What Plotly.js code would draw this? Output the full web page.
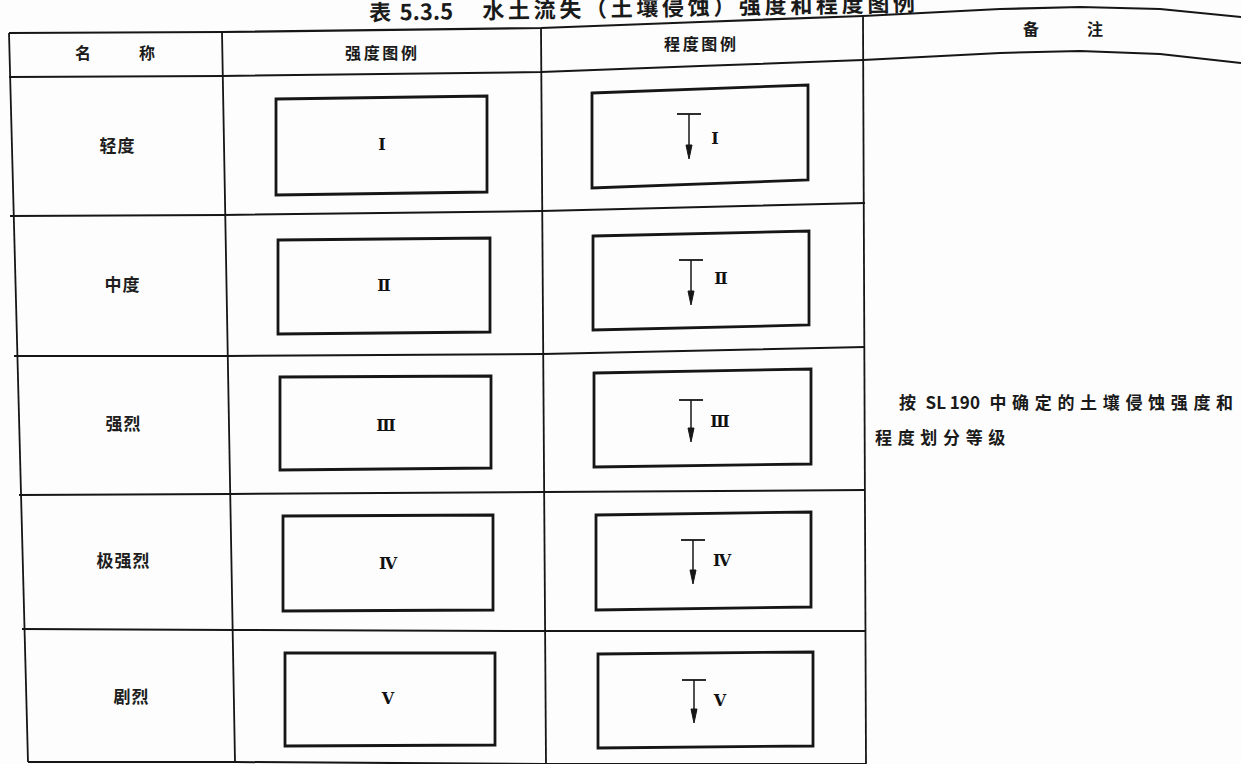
<!DOCTYPE html>
<html>
<head>
<meta charset="utf-8">
<script src="https://cdn.plot.ly/plotly-3.0.1.min.js"></script>
<style>
html,body{margin:0;padding:0;background:#fff;overflow:hidden}
#chart{width:1241px;height:764px}
</style>
</head>
<body>
<div id="chart"></div>
<script>
// ---------------- data (content only) ----------------
const TITLE = '表 5.3.5　水土流失（土壤侵蚀）强度和程度图例';
const HEADERS = ['名称', '强度图例', '程度图例', '备注'];
const NAMES = ['轻度', '中度', '强烈', '极强烈', '剧烈'];
const INTENSITY_LABELS = ['Ⅰ', 'Ⅱ', 'Ⅲ', 'Ⅳ', 'Ⅴ'];
const DEGREE_LABELS = ['Ⅰ', 'Ⅱ', 'Ⅲ', 'Ⅳ', 'Ⅴ'];
const NOTE_LINES = ['按 SL 190 中确定的土壤侵蚀强度和', '程度划分等级'];

// ---------------- layout geometry (page pixels, scanned page is slightly warped) ----------------
const W = 1241, H = 764;
const INK = '#161616';
const TOP_LINE  = [[9,33],[222,32],[541,28],[700,22],[863,16],[1000,9],[1080,7],[1160,9],[1241,17]];
const HEAD_LINE = [[9,77],[222,76],[541,72],[700,66],[863,60],[1000,53],[1080,51],[1160,54],[1241,63]];
const ROW_LINES = [
  [[10,216],[223,215],[542,211],[865,203]],
  [[14,356],[226,356],[543,354],[865,347]],
  [[19,495],[230,494],[544,492],[865,490]],
  [[22,629],[233,630],[545,631],[866,631]],
  [[28,762],[235,762],[546,764],[866,764]]
];
const COL_LINES = [
  [[9,33],[28,762]],
  [[222,32],[235,762]],
  [[541,28],[546,764]],
  [[863,16],[866,764]]
];
// boxes: [xLeft, xRight, yTopLeft, yTopRight, yBottomLeft, yBottomRight]
const STRENGTH_BOXES = [
  [276,487, 99, 96,195,192],
  [278,490,240,238,334,332],
  [280,491,377,376,470,468],
  [283,493,516,515,611,610],
  [285,495,653,653,746,745]
];
const DEGREE_BOXES = [
  [592,808, 93, 85,188,180],
  [593,809,236,231,330,325],
  [594,811,373,369,467,464],
  [596,811,515,512,610,607],
  [598,813,654,652,748,746]
];
// arrow symbol: [stemX, barY, tipY]
const ARROWS = [[689,114,159],[691,260,305],[691,400,442],[693,540,584],[694,680,723]];
const DEGREE_TEXT_POS = [[715,140],[721,280],[720,423],[722,562],[720,702]];
const STRENGTH_TEXT_POS = [[382,146],[384,287],[386,427],[388,565],[388,700]];
const NAME_POS = [[117,148],[122,287],[123,426],[123,563],[131,699]];
const HEADER_POS = [[115,55],[381,55],[700,46],[1063,31]];
const NOTE_POS = [[899,405],[875,440]];

// ---------------- helpers ----------------
const isCJK = c => /[\u3000-\u9fff\uff00-\uffef]/.test(c);
function spaced(s, sep) {
  const a = Array.from(s);
  return a.map((c, i) => c + (i < a.length - 1 && (isCJK(c) || isCJK(a[i+1])) ? sep : '')).join('');
}
const pathOf = pts => 'M ' + pts.map(p => p[0] + ',' + p[1]).join(' L ');
const boxPath = b => `M ${b[0]},${b[2]} L ${b[1]},${b[3]} L ${b[1]},${b[5]} L ${b[0]},${b[4]} Z`;

const shapes = [];
const addLine = (pts, w) => shapes.push({type:'path', xref:'x', yref:'y', path: pathOf(pts), line:{color:INK, width:w}});
addLine(TOP_LINE, 2.2);
addLine(HEAD_LINE, 2);
ROW_LINES.forEach(r => addLine(r, 2));
COL_LINES.forEach(c => addLine(c, 1.8));
STRENGTH_BOXES.concat(DEGREE_BOXES).forEach(b =>
  shapes.push({type:'path', xref:'x', yref:'y', path: boxPath(b), line:{color:INK, width:2.8}}));
ARROWS.forEach(([sx, by, ty]) => {
  addLine([[sx-12, by], [sx+12, by]], 1.8);
  addLine([[sx, by], [sx, ty-10]], 1.5);
  shapes.push({type:'path', xref:'x', yref:'y', path:`M ${sx-3},${ty-14} L ${sx+3},${ty-14} L ${sx},${ty} Z`,
    fillcolor: INK, line:{color:INK, width:1}});
});

const cjk = 'Noto Sans CJK SC, Noto Sans, sans-serif';
const serif = 'Liberation Serif, DejaVu Serif, serif';
function textTrace(pos, text, font, tp) {
  return {type:'scatter', mode:'text', x: pos.map(p => p[0]), y: pos.map(p => p[1]), text,
    textposition: tp || 'middle center', textfont: font, hoverinfo:'skip', showlegend:false, cliponaxis:false};
}
const traces = [
  textTrace(HEADER_POS,
    [spaced(HEADERS[0], '\u3000\u3000\u3000'), spaced(HEADERS[1], '\u2006'), spaced(HEADERS[2], '\u2006'), spaced(HEADERS[3], '\u3000\u3000\u3000')],
    {family: cjk, size: 16, color: '#1a1a1a', weight: 700}),
  textTrace(NAME_POS, NAMES.map(n => spaced(n, '\u200a')), {family: cjk, size: 17, color: '#1e1e1e', weight: 600}),
  textTrace(STRENGTH_TEXT_POS, INTENSITY_LABELS, {family: serif, size: 16, color: '#111', weight: 700}),
  textTrace(DEGREE_TEXT_POS, DEGREE_LABELS, {family: serif, size: 16, color: '#111', weight: 700}),
  textTrace(NOTE_POS, NOTE_LINES.map(s => spaced(s, '\u2004')),
    {family: cjk, size: 17, color: '#1a1a1a', weight: 700}, 'middle right')
];

const layout = {
  width: W, height: H,
  margin: {l:0, r:0, t:0, b:0},
  paper_bgcolor: '#fdfdfd', plot_bgcolor: '#fdfdfd',
  xaxis: {range:[0, W], visible:false, fixedrange:true},
  yaxis: {range:[H, 0], visible:false, fixedrange:true},
  shapes,
  annotations: [{
    xref:'x', yref:'y', x: 642, y: 6, text: spaced(TITLE, '\u2006'), showarrow:false, textangle:-1.0,
    xanchor:'center', yanchor:'middle', font:{family: cjk, size: 22, color:'#1a1a1a', weight: 700}
  }]
};

Plotly.newPlot('chart', traces, layout, {displayModeBar:false, staticPlot:true});
</script>
</body>
</html>
